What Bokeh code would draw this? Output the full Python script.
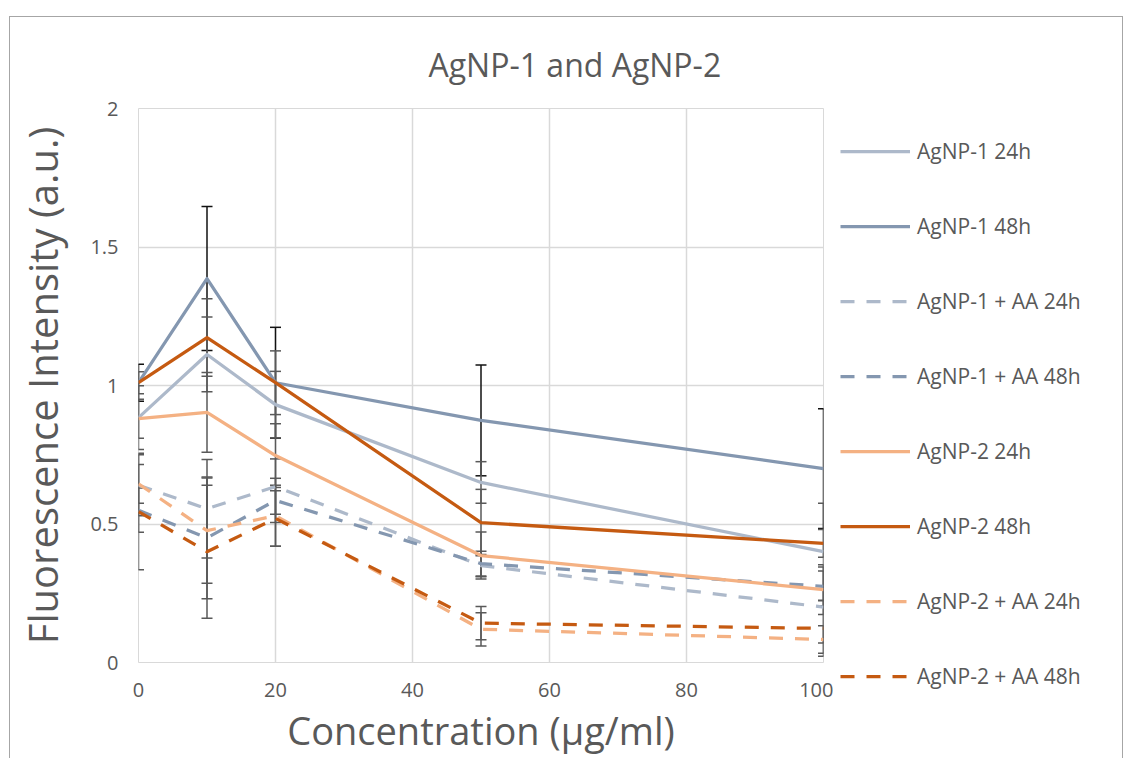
from bokeh.embed import file_html
from bokeh.layouts import row
from bokeh.models import ColumnDataSource, FixedTicker, Legend, LegendItem, Range1d
from bokeh.plotting import figure
from bokeh.resources import INLINE

# Concentrations tested (µg/ml)
concentration = [0, 10, 20, 50, 100]

series_names = [
    "AgNP-1 24h", "AgNP-1 48h", "AgNP-1 + AA 24h", "AgNP-1 + AA 48h",
    "AgNP-2 24h", "AgNP-2 48h", "AgNP-2 + AA 24h", "AgNP-2 + AA 48h",
]

# Mean fluorescence intensity (a.u.) and error per concentration
agnp1_24h = [0.884, 1.112, 0.931, 0.650, 0.400]
agnp1_24h_err = [0.115, 0.135, 0.120, 0.075, 0.175]

agnp1_48h = [1.010, 1.386, 1.010, 0.874, 0.700]
agnp1_48h_err = [0.067, 0.260, 0.200, 0.200, 0.216]

agnp1_aa_24h = [0.640, 0.555, 0.635, 0.350, 0.200]
agnp1_aa_24h_err = [0.110, 0.178, 0.100, 0.040, 0.130]

agnp1_aa_48h = [0.550, 0.450, 0.585, 0.357, 0.275]
agnp1_aa_48h_err = [0.080, 0.220, 0.080, 0.045, 0.070]

agnp2_24h = [0.880, 0.903, 0.747, 0.386, 0.263]
agnp2_24h_err = [0.070, 0.144, 0.115, 0.085, 0.090]

agnp2_48h = [1.010, 1.173, 1.010, 0.505, 0.430]
agnp2_48h_err = [0.040, 0.140, 0.115, 0.120, 0.050]

agnp2_aa_24h = [0.645, 0.476, 0.530, 0.120, 0.083]
agnp2_aa_24h_err = [0.070, 0.190, 0.110, 0.060, 0.050]

agnp2_aa_48h = [0.545, 0.400, 0.520, 0.142, 0.123]
agnp2_aa_48h_err = [0.210, 0.240, 0.100, 0.060, 0.100]

x_ticks = [0, 20, 40, 60, 80, 100]
y_ticks = [0, 0.5, 1, 1.5, 2]
y_tick_labels = ["0", "0.5", "1", "1.5", "2"]

means = [agnp1_24h, agnp1_48h, agnp1_aa_24h, agnp1_aa_48h,
         agnp2_24h, agnp2_48h, agnp2_aa_24h, agnp2_aa_48h]
errors = [agnp1_24h_err, agnp1_48h_err, agnp1_aa_24h_err, agnp1_aa_48h_err,
          agnp2_24h_err, agnp2_48h_err, agnp2_aa_24h_err, agnp2_aa_48h_err]

colors = ["#ADB9CA", "#8497B0", "#ADB9CA", "#8497B0",
          "#F4B183", "#C55A11", "#F4B183", "#C55A11"]
dashes = ["solid", "solid", "14 12", "14 12", "solid", "solid", "14 12", "14 12"]
bar_colors = ["#595959", "#111111", "#595959", "#595959",
              "#595959", "#595959", "#595959", "#595959"]

FONT = "Open Sans"
TEXT = "#595959"
GRID = "#D9D9D9"
CHART_BORDER = "1px solid #A6A6A6"
LINE_W = 3.25

# --- main plot -------------------------------------------------------------
p = figure(
    width=823, height=741,
    x_range=Range1d(0, 100), y_range=Range1d(0, 2),
    output_backend="svg", toolbar_location=None,
    min_border_left=128, min_border_right=10,
    min_border_top=91, min_border_bottom=96,
)
p.frame_align = False

p.title.text = "AgNP-1 and AgNP-2"
p.title.align = "left"
p.title.offset = 290
p.title.standoff = 46
p.title.text_font = FONT
p.title.text_font_size = "32px"
p.title.text_font_style = "normal"
p.title.text_color = TEXT

p.outline_line_color = GRID
p.xgrid.ticker = FixedTicker(ticks=x_ticks)
p.ygrid.ticker = FixedTicker(ticks=y_ticks)
p.grid.grid_line_color = GRID
p.grid.grid_line_width = 1.5

p.xaxis.ticker = FixedTicker(ticks=x_ticks)
p.yaxis.ticker = FixedTicker(ticks=y_ticks)
p.yaxis.major_label_overrides = dict(zip(y_ticks, y_tick_labels))
for ax in (p.xaxis, p.yaxis):
    ax.axis_line_color = None
    ax.major_tick_line_color = None
    ax.minor_tick_line_color = None
    ax.major_tick_out = 0
    ax.major_tick_in = 0
    ax.major_label_text_font = FONT
    ax.major_label_text_font_size = "20px"
    ax.major_label_text_color = TEXT
    ax.axis_label_text_font = FONT
    ax.axis_label_text_font_style = "normal"
    ax.axis_label_text_color = TEXT

p.xaxis.axis_label = "Concentration (µg/ml)"
p.xaxis.axis_label_text_font_size = "38px"
p.xaxis.major_label_standoff = 20
p.xaxis.axis_label_standoff = 4
p.yaxis.axis_label = "Fluorescence Intensity (a.u.)"
p.yaxis.axis_label_text_font_size = "40px"
p.yaxis.major_label_standoff = 20
p.yaxis.axis_label_standoff = 17

sources = []
for m, e in zip(means, errors):
    sources.append(ColumnDataSource(dict(
        x=concentration,
        y=m,
        upper=[a + b for a, b in zip(m, e)],
        lower=[a - b for a, b in zip(m, e)],
    )))

# Error bars first (the darkest set at the back), then the series lines on top
order = [1] + [i for i in range(len(series_names)) if i != 1]
for i in order:
    src = sources[i]
    c = bar_colors[i]
    p.segment(x0="x", y0="lower", x1="x", y1="upper", source=src,
              line_color=c, line_width=1.5)
    p.scatter(x="x", y="upper", source=src, marker="dash", size=11,
              line_color=c, line_width=1.5)
    p.scatter(x="x", y="lower", source=src, marker="dash", size=11,
              line_color=c, line_width=1.5)

for i, name in enumerate(series_names):
    p.line(x="x", y="y", source=sources[i], line_color=colors[i],
           line_width=LINE_W, line_dash=dashes[i], line_join="round")

# --- legend panel to the right of the plot --------------------------------
key = figure(
    width=289, height=741,
    x_range=Range1d(0, 1), y_range=Range1d(0, 1),
    x_axis_location=None, y_axis_location=None,
    output_backend="svg", toolbar_location=None,
    min_border=0,
)
key.frame_align = False
key.grid.visible = False
key.outline_line_color = None

nan = float("nan")
items = []
for i, name in enumerate(series_names):
    # stand-in line (nothing drawn in the frame) that carries the series style
    r = key.line(x=[nan], y=[nan], line_color=colors[i], line_width=LINE_W,
                 line_dash=dashes[i])
    items.append(LegendItem(label=name, renderers=[r]))

legend = Legend(
    items=items,
    location=(7, 68),
    orientation="vertical",
    glyph_width=70, glyph_height=28, label_height=28,
    spacing=47, label_standoff=7,
    padding=0, margin=0,
    border_line_color=None, background_fill_alpha=0,
    label_text_font=FONT, label_text_font_size="21px", label_text_color=TEXT,
)
key.add_layout(legend, "center")

chart = row(
    p, key,
    margin=(16, 0, 0, 9),
    styles={
        "border-top": CHART_BORDER,
        "border-left": CHART_BORDER,
        "border-right": CHART_BORDER,
    },
)

open("out.html", "w").write(file_html(chart, INLINE))
